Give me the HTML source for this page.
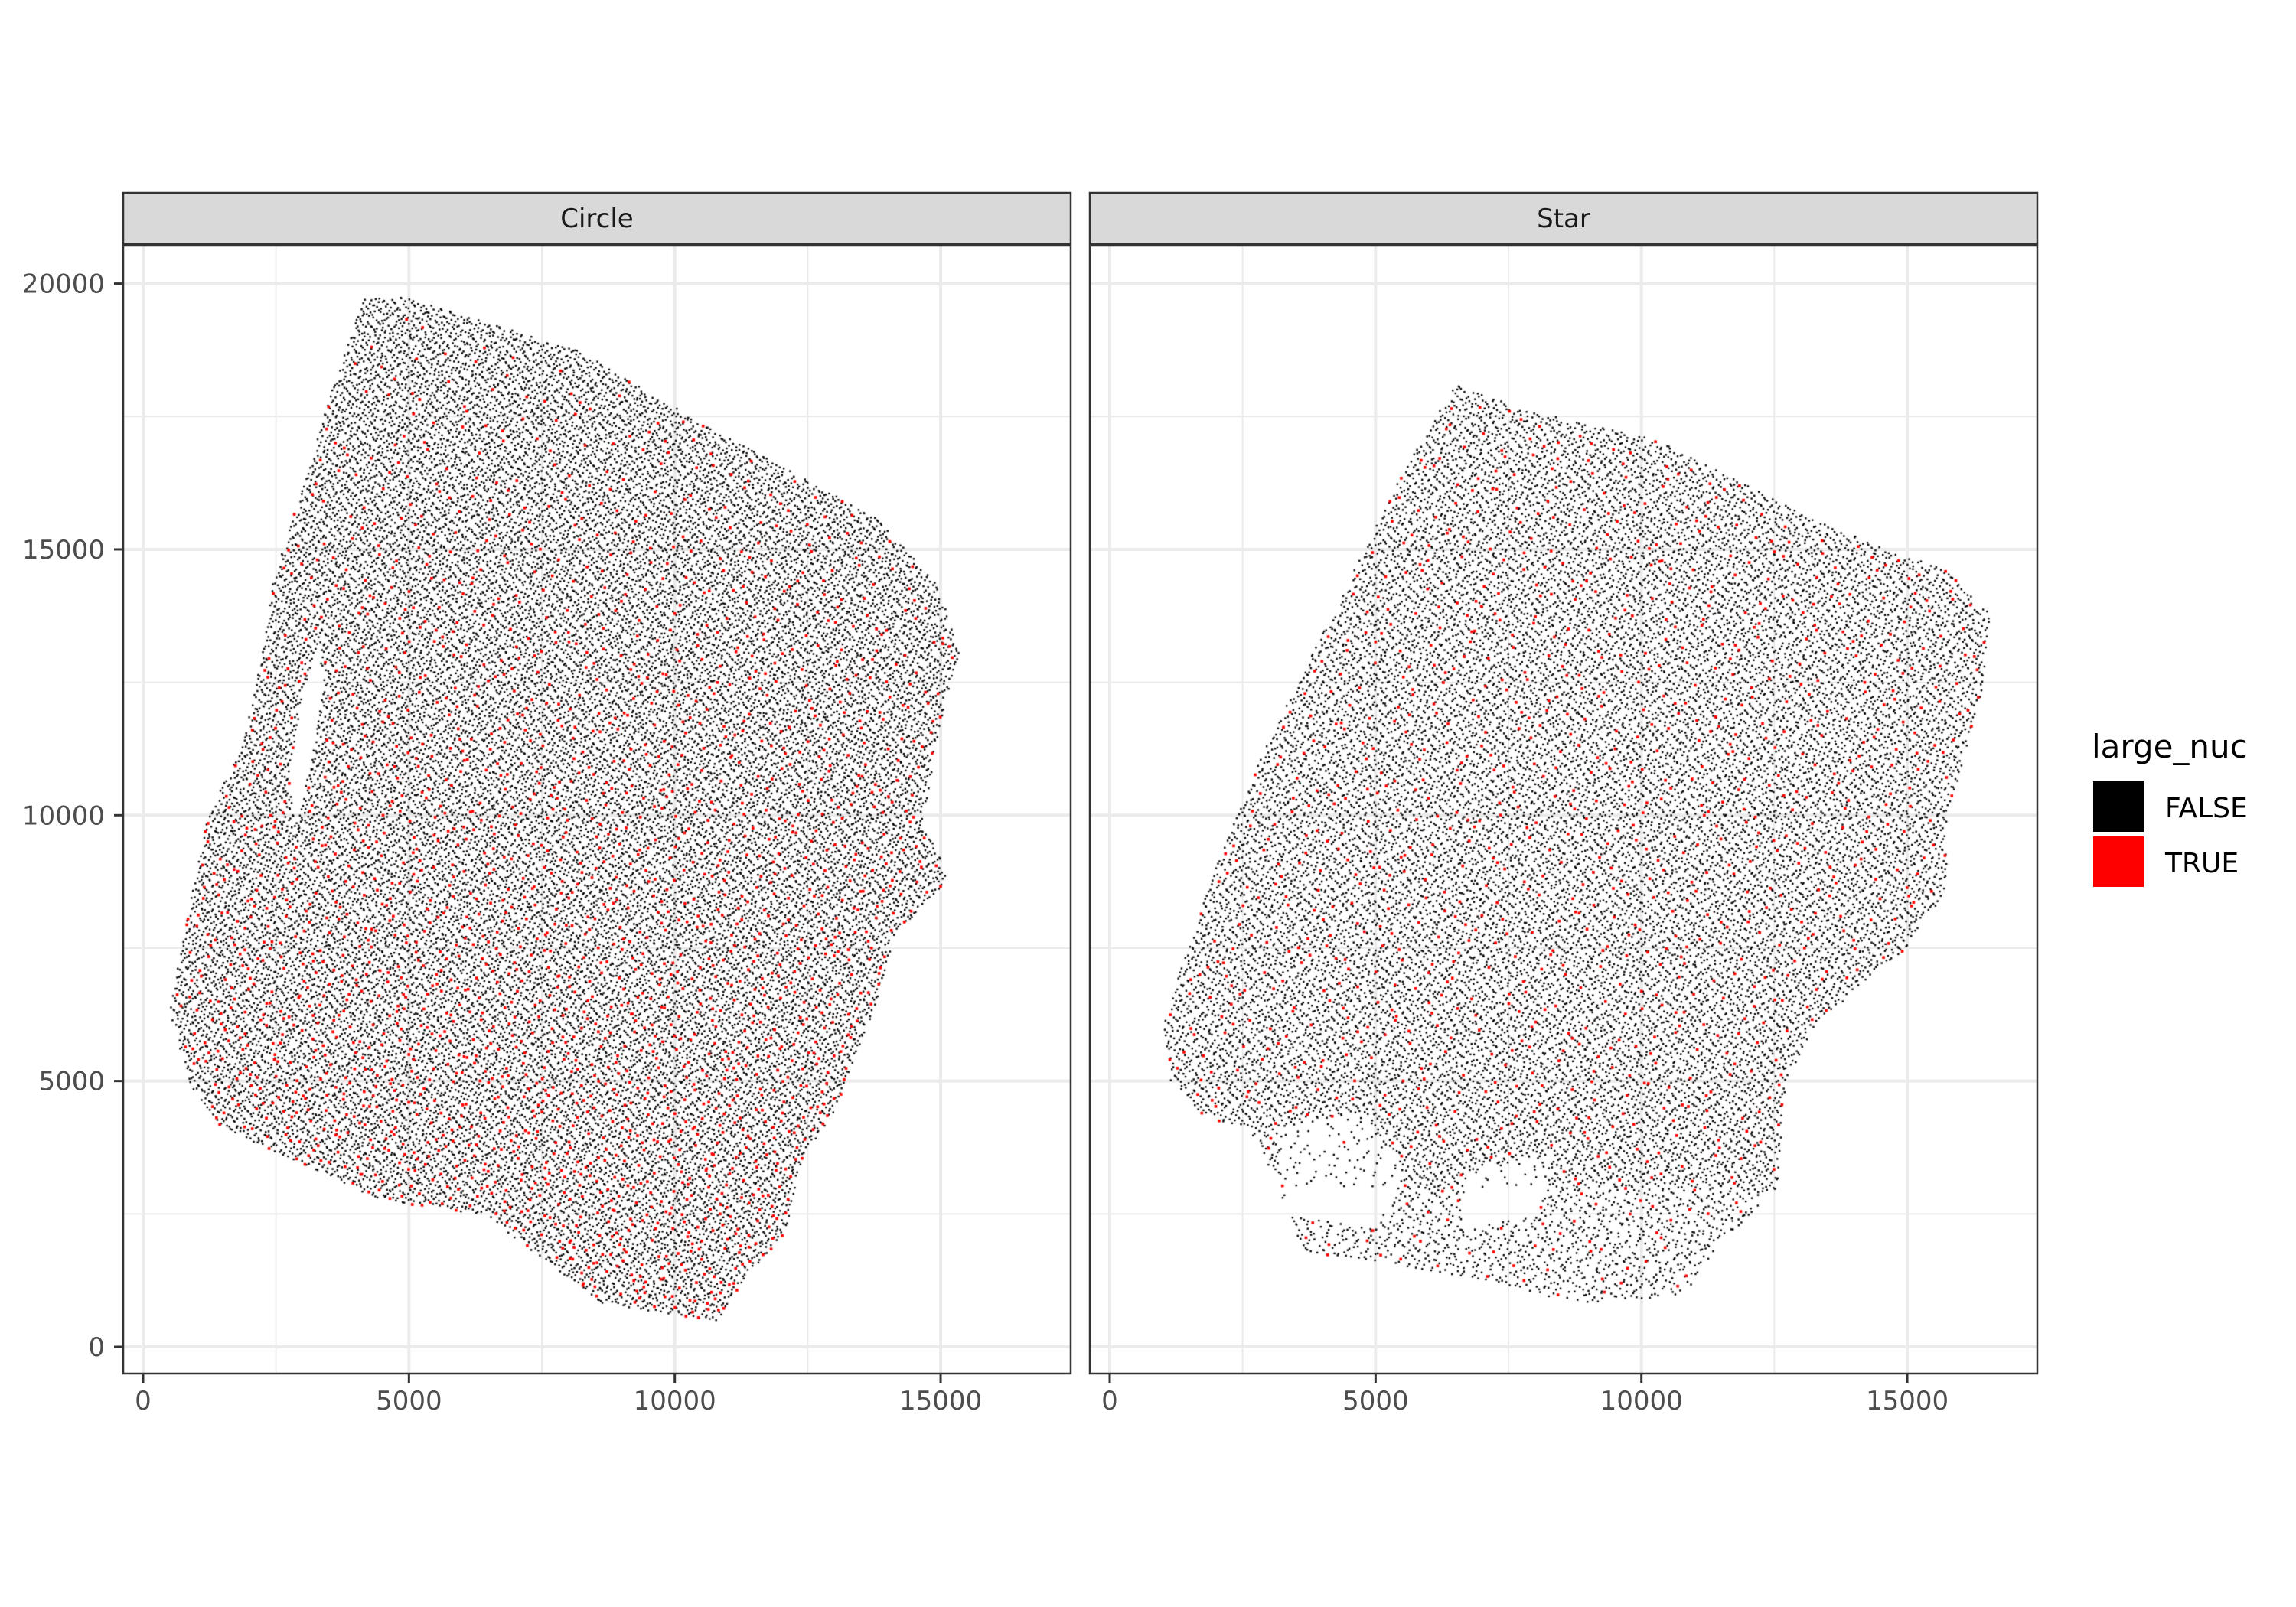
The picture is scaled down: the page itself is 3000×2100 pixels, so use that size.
<!DOCTYPE html>
<html><head><meta charset="utf-8">
<style>
html,body{margin:0;padding:0;background:#fff;}
#wrap{position:relative;width:3000px;height:2100px;overflow:hidden;font-family:"DejaVu Sans","Liberation Sans",sans-serif;}
svg,canvas{position:absolute;left:0;top:0;}
</style></head>
<body>
<div id="wrap">
<svg id="axes" width="3000" height="2100"></svg>
<canvas id="pts" width="3000" height="2100"></canvas>
<svg id="over" width="3000" height="2100"></svg>
</div>
<script>
// ---- data ----
const panels = ["Circle", "Star"];
const xTicks = [0, 5000, 10000, 15000];
const yTicks = [0, 5000, 10000, 15000, 20000];
const legendLabels = ["FALSE", "TRUE"];
const legendColors = ["#000000", "#ff0000"];
const circleOutline = [[4156,19725],[4899,19750],[8201,18733],[10540,17355],[13843,15565],[14943,14325],[15356,13085],[15081,12121],[14668,9917],[15164,8815],[14118,7713],[13843,6612],[13017,4408],[12412,3581],[12054,2066],[11366,1377],[10815,468],[9439,689],[8614,826],[6412,2479],[4486,2755],[1459,4132],[853,4959],[495,6336],[771,7713],[1183,9917],[1871,11295],[2284,13223],[2422,14325],[3110,16529],[3523,17906]];
const circleHole = [[3303,13223],[3028,12397],[2752,10744],[2890,9917],[3165,11020],[3386,12397]];
const starOutline = [[6522,18127],[7761,17631],[10237,17080],[13540,15427],[15741,14601],[16567,13774],[16429,12397],[15741,9917],[15741,8540],[14916,7438],[13265,6061],[12714,4959],[12577,3030],[11476,1928],[10788,964],[8861,826],[7485,1102],[5559,1515],[3633,1791],[2807,3857],[1706,4408],[1156,4959],[1018,6061],[1706,8265],[2807,11020],[4458,14325],[5559,16529]];
const starSparseA = [[3082,4133],[4733,4408],[5559,3306],[5009,2204],[3357,2479]];
const starSparseB = [[6660,3306],[8311,3581],[8036,2479],[6660,2204]];
const starSparseC = [[1500,4300],[2700,4100],[3300,3000],[2900,2500],[2000,3600]];
const sparseKeep = 0.25;
const redFraction = [0.08, 0.05];
const pointDensity = [0.032, 0.026];

// ---- layout ----
const NS = "http://www.w3.org/2000/svg";
const panelLeft = [161, 1424], panelW = 1238, panelTop = 321, panelBot = 1795;
const pxPerUnit = 0.06947, x0off = 26, yZero = 1760;
function sx(p, v){ return panelLeft[p] + x0off + v * pxPerUnit; }
function sy(v){ return yZero - v * pxPerUnit; }
function mk(svg, tag, attrs){ const e=document.createElementNS(NS,tag); for(const k in attrs) e.setAttribute(k,attrs[k]); svg.appendChild(e); return e; }
const ax = document.getElementById('axes'), ov = document.getElementById('over');

panels.forEach((name, p) => {
  const L = panelLeft[p], R = L + panelW;
  for (let v = -2500; v <= 20000; v += 2500) {
    if (v % 5000 === 0) continue;
    const y = sy(v);
    if (y > panelTop && y < panelBot) { const g = mk(ax,'line',{x1:L,x2:R,y1:y,y2:y,stroke:'#ebebeb','stroke-width':2});
        }
    const x = sx(p, v);
    if (x > L && x < R) { const g = mk(ax,'line',{x1:x,x2:x,y1:panelTop,y2:panelBot,stroke:'#ebebeb','stroke-width':2});
        }
  }
  yTicks.forEach(v => { const y = sy(v);
    const g = mk(ax,'line',{x1:L,x2:R,y1:y,y2:y,stroke:'#ebebeb','stroke-width':4});
      });
  xTicks.forEach(v => { const x = sx(p, v);
    const g = mk(ax,'line',{x1:x,x2:x,y1:panelTop,y2:panelBot,stroke:'#ebebeb','stroke-width':4});
     
    const t = mk(ov,'line',{x1:x,x2:x,y1:panelBot,y2:panelBot+12,stroke:'#333','stroke-width':3});
     
    const lab = mk(ov,'text',{x:x,y:1842,'text-anchor':'middle','font-size':34,fill:'#4d4d4d'});
    lab.textContent = v;
     
  });
  const fr = mk(ov,'rect',{x:L,y:panelTop,width:panelW,height:panelBot-panelTop,fill:'none',stroke:'#333','stroke-width':2.5});
   
  const st = mk(ov,'rect',{x:L,y:252,width:panelW,height:67,fill:'#d9d9d9',stroke:'#333','stroke-width':2.5});
   
  const stt = mk(ov,'text',{x:L+panelW/2,y:297,'text-anchor':'middle','font-size':34,fill:'#1a1a1a'});
  stt.textContent = name;
   
});
yTicks.forEach(v => { const y = sy(v);
  const t = mk(ov,'line',{x1:149,x2:161,y1:y,y2:y,stroke:'#333','stroke-width':3});
   
  const lab = mk(ov,'text',{x:137,y:y+12,'text-anchor':'end','font-size':34,fill:'#4d4d4d'});
  lab.textContent = v;
   
});
const lt = mk(ov,'text',{x:2733,y:990,'font-size':42,fill:'#000'});
lt.textContent = 'large_nuc';
 
legendLabels.forEach((l,i) => {
  const r = mk(ov,'rect',{x:2735,y:1021+i*72,width:66,height:66,fill:legendColors[i]});
   
  const t = mk(ov,'text',{x:2829,y:1068+i*72,'font-size':36,fill:'#000'});
  t.textContent = l;
   
});

// ---- points ----
function inPoly(x,y,poly){ let c=false; for(let i=0,j=poly.length-1;i<poly.length;j=i++){const [xi,yi]=poly[i],[xj,yj]=poly[j];
  if(((yi>y)!==(yj>y)) && (x < (xj-xi)*(y-yi)/(yj-yi)+xi)) c=!c;} return c; }
function halton(i,b){ let f=1,r=0; while(i>0){f/=b; r+=f*(i%b); i=Math.floor(i/b);} return r; }
function area(poly){ let a=0; for(let i=0,j=poly.length-1;i<poly.length;j=i++) a+=(poly[j][0]+poly[i][0])*(poly[j][1]-poly[i][1]); return Math.abs(a/2); }
const ctx = document.getElementById('pts').getContext('2d');
const shapes = [[circleOutline,[circleHole],[]],[starOutline,[],[starSparseA,starSparseB,starSparseC]]];
shapes.forEach(([poly, holes, sparse], p) => {
  const xs = poly.map(q=>q[0]), ys = poly.map(q=>q[1]);
  const minX=Math.min(...xs), maxX=Math.max(...xs), minY=Math.min(...ys), maxY=Math.max(...ys);
  const pxArea = area(poly)*pxPerUnit*pxPerUnit;
  const boxFrac = area(poly)/((maxX-minX)*(maxY-minY));
  const n = Math.round(pxArea*pointDensity[p]/boxFrac);
  const reds = [];
  ctx.fillStyle = '#000';
  for (let i=1;i<=n;i++){
    const x = minX + halton(i+p*7919,2)*(maxX-minX), y = minY + halton(i+p*7919,3)*(maxY-minY);
    if(!inPoly(x,y,poly) || holes.some(h=>inPoly(x,y,h))) continue;
    if (sparse.some(h=>inPoly(x,y,h)) && halton(i,7) > sparseKeep) continue;
    if (p===1 && y < 3000 && halton(i,7) < 0.3) continue;
    if (halton(i,5) < redFraction[p]*(p===0 ? (1.6 - y/14000) : 1)) { reds.push([x,y]); continue; }
    ctx.fillRect(sx(p,x)-1.2, sy(y)-1.2, 2.4, 2.4);
  }
  ctx.fillStyle = '#ff0000';
  reds.forEach(([x,y]) => ctx.fillRect(sx(p,x)-1.8, sy(y)-1.8, 3.6, 3.6));
});
</script>
</body></html>
